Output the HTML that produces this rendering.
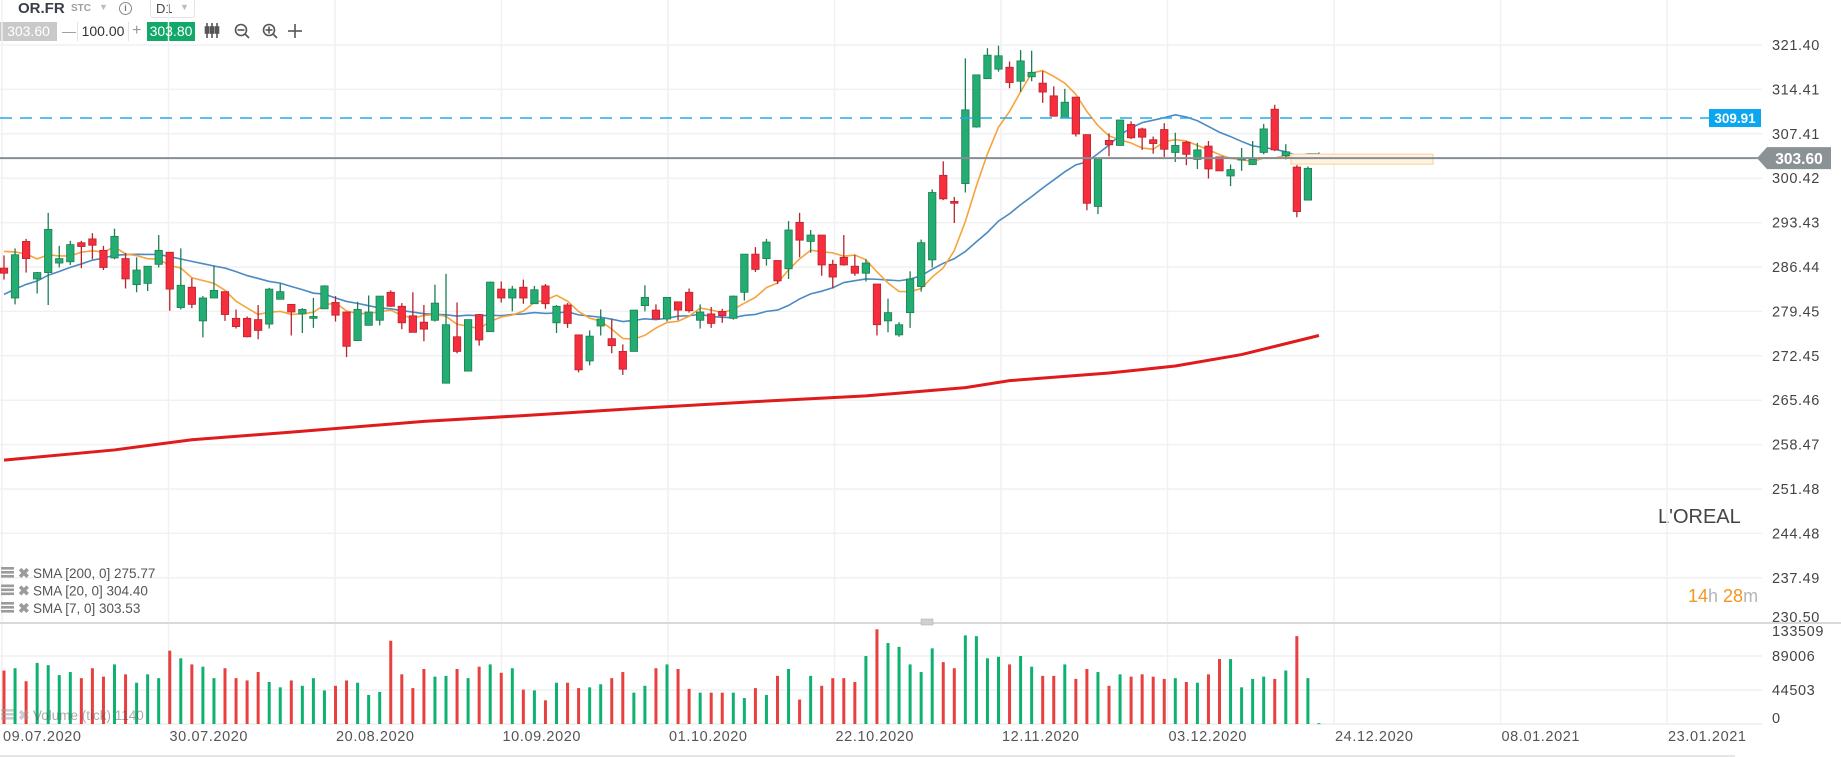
<!DOCTYPE html>
<html><head><meta charset="utf-8"><title>OR.FR chart</title>
<style>
html,body{margin:0;padding:0;background:#fff;overflow:hidden;}
body{width:1841px;height:757px;position:relative;font-family:"Liberation Sans",sans-serif;}
svg{position:absolute;left:0;top:0;}
.tb{position:absolute;font-size:14px;color:#333;}
</style></head>
<body>
<div class="tb" style="left:18px;top:0px;font-size:15px;font-weight:bold;color:#3a3f47;">OR.FR</div>
<div class="tb" style="left:71px;top:3px;font-size:10px;font-weight:bold;color:#9aa0a6;">STC</div>
<div class="tb" style="left:99px;top:2px;font-size:9px;color:#bbb;">▼</div>
<div class="tb" style="left:119px;top:2px;width:11px;height:11px;border:1.5px solid #888;border-radius:50%;font-size:9px;line-height:11px;text-align:center;color:#777;font-weight:bold;">i</div>
<div class="tb" style="left:150px;top:-2px;width:43px;height:18px;border:1px solid #e3e3e3;border-radius:3px;font-size:13px;color:#444;"><span style="position:absolute;left:5px;top:2px;">D1</span><span style="position:absolute;left:29px;top:3px;font-size:9px;color:#bbb;">▼</span></div>
<div class="tb" style="left:0;top:22px;width:57px;height:19px;background:#c9c9c9;color:#fff;font-size:14px;line-height:19px;text-align:center;">303.60</div>
<div class="tb" style="left:62px;top:22px;font-size:14px;line-height:19px;color:#999;">—</div>
<div class="tb" style="left:77px;top:22px;width:50px;height:19px;border-left:1px solid #e3e3e3;border-right:1px solid #e3e3e3;font-size:14px;line-height:19px;text-align:center;color:#333;">100.00</div>
<div class="tb" style="left:132px;top:21px;font-size:16px;line-height:19px;color:#999;">+</div>
<div class="tb" style="left:147px;top:22px;width:48px;height:19px;background:#12a86a;color:#fff;font-size:14px;line-height:19px;text-align:center;">303.80</div>
<div class="tb" style="left:1658px;top:506px;font-size:20px;color:#444;">L'OREAL</div>
<div class="tb" style="left:1688px;top:586px;font-size:18px;"><span style="color:#f7941d">14</span><span style="color:#b5b5b5">h </span><span style="color:#f7941d">28</span><span style="color:#b5b5b5">m</span></div>

<svg id="chart" width="1841" height="757" xmlns="http://www.w3.org/2000/svg"></svg>

<script>
// ---- data ----
const dateLabels = ["09.07.2020","30.07.2020","20.08.2020","10.09.2020","01.10.2020","22.10.2020","12.11.2020","03.12.2020","24.12.2020","08.01.2021","23.01.2021"];
const priceTicks = ["321.40","314.41","307.41","300.42","293.43","286.44","279.45","272.45","265.46","258.47","251.48","244.48","237.49","230.50"];
const volumeTicks = [133509, 89006, 44503, 0];
const opens = [286.3,281.6,290.5,284.6,285.6,287.1,287.3,290.3,290.9,289.1,287.9,287.8,283.7,283.9,286.9,288.8,280.1,283.3,278.0,281.6,282.6,278.4,278.4,278.2,277.5,281.4,280.6,279.1,278.4,279.9,280.9,279.4,274.9,277.3,278.1,282.5,280.3,278.8,277.8,278.1,268.2,275.5,270.1,279.0,276.3,283.0,281.6,283.3,280.7,283.5,277.7,280.5,275.8,271.7,277.2,275.2,273.2,273.2,280.4,279.7,278.3,281.0,282.5,278.1,279.1,279.5,278.4,282.5,288.5,287.8,287.5,286.2,293.5,290.5,291.5,286.9,288.0,286.6,285.5,283.8,278.0,275.8,279.3,283.4,287.6,300.9,296.8,299.6,308.5,316.1,317.6,317.9,315.7,316.4,315.4,313.4,309.9,313.2,307.3,296.0,306.4,305.6,308.9,308.2,306.5,308.1,304.5,306.1,303.4,305.5,303.8,300.8,303.3,302.6,304.5,311.3,304.0,302.2,297.0,303.2];
const highs = [288.3,289.4,290.9,285.7,295.0,289.8,290.6,290.6,291.8,289.8,292.5,288.7,288.0,286.6,291.5,288.8,289.4,284.7,281.9,286.7,282.6,279.8,278.7,280.5,283.2,283.9,280.6,280.0,281.6,283.6,281.9,279.4,281.0,282.0,281.9,282.8,280.8,282.5,280.5,283.7,285.4,280.9,278.2,279.1,284.2,284.2,283.5,284.5,283.5,283.8,280.5,280.8,275.8,276.5,279.8,278.3,274.3,279.7,283.6,280.6,281.7,281.0,283.1,280.6,280.2,279.9,282.0,288.5,289.6,290.9,287.5,293.7,295.0,292.3,291.5,287.6,291.5,288.4,287.7,283.8,281.5,277.8,285.8,290.8,298.7,303.1,297.5,319.3,316.7,320.9,321.3,318.8,320.6,320.5,317.3,314.9,314.5,313.2,307.3,303.5,307.5,309.6,309.4,308.4,307.0,309.1,307.6,306.3,306.0,306.3,303.8,302.6,305.2,306.3,309.0,312.0,305.8,302.5,302.3,304.5];
const lows = [284.5,280.6,285.6,282.3,280.5,286.4,286.8,286.3,287.7,286.0,287.7,283.1,282.5,282.7,286.4,279.6,279.8,280.0,275.4,281.6,278.0,276.8,275.4,275.1,276.8,281.4,275.7,276.1,276.9,279.9,277.9,272.3,274.9,277.3,277.3,280.2,276.7,276.2,274.8,277.9,268.2,272.9,270.1,274.1,276.3,280.9,279.5,280.7,280.7,279.9,276.1,276.9,269.9,271.0,275.7,272.9,269.5,273.2,279.5,278.3,277.9,278.1,279.3,276.8,276.9,277.7,278.2,281.2,285.7,286.7,283.8,284.6,288.0,288.7,285.1,283.1,286.7,285.1,284.2,275.7,276.2,275.5,276.9,282.6,286.4,297.0,293.4,298.2,308.4,316.1,317.2,314.6,314.0,315.7,312.3,310.2,309.9,307.0,295.4,294.8,303.9,305.6,306.6,304.9,304.3,303.8,303.0,302.5,301.9,300.4,301.6,299.2,301.6,302.5,304.2,304.7,303.4,294.3,297.0,302.8];
const closes = [285.5,288.4,287.8,285.6,292.4,287.8,290.0,289.7,289.9,286.4,291.3,284.6,286.0,286.6,289.1,283.0,283.6,280.6,281.6,282.8,279.0,277.1,275.5,276.5,283.0,282.6,279.4,279.8,278.7,283.5,278.9,274.0,279.8,279.4,281.9,280.3,277.7,276.2,276.7,280.8,277.4,273.2,278.2,275.0,284.1,281.6,283.0,281.6,282.9,280.7,280.3,277.6,270.3,275.6,278.3,274.1,270.4,279.7,281.7,278.3,281.7,279.7,279.6,279.4,277.6,278.8,281.9,288.5,286.1,290.4,284.3,292.3,290.7,291.5,286.8,284.9,286.8,285.5,287.1,277.4,279.3,277.4,284.6,290.3,298.2,297.2,296.5,311.2,316.7,319.8,319.7,315.5,318.9,317.1,314.0,310.2,312.4,307.4,296.5,303.5,305.7,309.6,306.8,306.9,305.9,305.0,305.6,304.2,304.9,301.9,301.6,301.8,303.6,303.4,308.2,304.9,304.6,295.2,302.0,303.6];
const priorCloses = [272,273,275,274,276,277,279,278,280,282,283,285,287,289,290,291,288,289,290];
const volumes = [70,73,56,80,77,64,68,60,73,62,78,65,54,65,60,96,86,78,75,60,73,60,57,68,55,48,57,50,60,44,50,57,54,38,42,109,65,47,72,62,63,72,60,75,78,67,73,45,44,31,54,54,47,48,52,60,68,41,50,73,78,72,46,41,41,41,41,34,47,38,63,72,32,63,50,60,60,55,89,124,106,101,78,68,99,81,73,116,115,86,88,78,89,75,63,63,78,59,72,68,50,65,62,65,62,59,60,55,54,65,85,85,48,59,62,59,70,115,60,1.14];
const sma200Bars = [0,10,17,26,38,47,57,68,78,87,91,100,106,112,119];
const sma200Values = [256.1,257.7,259.3,260.5,262.2,263.1,264.2,265.3,266.2,267.5,268.6,269.8,270.9,272.7,275.7];
const legendLines = ["SMA [200, 0] 275.77","SMA [20, 0] 304.40","SMA [7, 0] 303.53"];
const lastPrice = 303.60, alertPrice = 309.91;

// ---- axes ----
const NS = "http://www.w3.org/2000/svg";
const svg = document.getElementById('chart');
const xBar = i => 4 + 11.05 * i;
const yP = p => 45 + (321.4 - p) * 6.357;
const yV = v => 724 - (v * 1000) / 133509 * 102;
const PLOT_R = 1762;
function mk(tag, attrs, parent) {
  const e = document.createElementNS(NS, tag);
  for (const k in attrs) e.setAttribute(k, attrs[k]);
  (parent || svg).appendChild(e);
  return e;
}
const grid = mk('g', {});


priceTicks.forEach((t, k) => {
  const y = 45 + k * 44.4;
  if (k < priceTicks.length - 1) mk('line', {x1:0, x2:PLOT_R, y1:y, y2:y, stroke:'#f1f1f3', 'stroke-width':1.5}, grid);
  const tx = mk('text', {x:1772, y:(k === priceTicks.length - 1 ? 617 : y) + 5, 'font-size':14.5, fill:'#444', 'letter-spacing':'0.6'});
  tx.textContent = t;
  
  
});
dateLabels.forEach((d, k) => {
  const x = 2 + k * 166.5;
  mk('line', {x1:x, x2:x, y1:0, y2:724, stroke:'#f1f1f3', 'stroke-width':1.5}, grid);
  const tx = mk('text', {x:x + 1, y:741, 'font-size':14.5, fill:'#555', 'letter-spacing':'0.6'});
  tx.textContent = d;
  
  
});
volumeTicks.forEach(v => {
  const y = yV(v / 1000);
  if (v > 0 && v < 133509) mk('line', {x1:0, x2:PLOT_R, y1:y, y2:y, stroke:'#f1f1f3', 'stroke-width':1.5}, grid);
  const tx = mk('text', {x:1772, y:(v === 133509 ? 636 : (v === 0 ? 723 : y + 5)), 'font-size':14.5, fill:'#444', 'letter-spacing':'0.6'});
  tx.textContent = String(v);
  
  
});
mk('line', {x1:0, x2:PLOT_R, y1:724, y2:724, stroke:'#eeeeee', 'stroke-width':1.5}, grid);
const sep = mk('line', {x1:0, x2:1841, y1:623, y2:623, stroke:'#d9d9d9', 'stroke-width':2});


mk('rect', {x:921, y:619, width:12, height:6, fill:'#d0d0d0', stroke:'#aaa', 'stroke-width':0.5});
mk('line', {x1:0, x2:1735, y1:756, y2:756, stroke:'#e6e6e6', 'stroke-width':2});

// ---- SMA200 ----
const s200 = mk('polyline', {fill:'none', stroke:'#e01b1b', 'stroke-width':3,
  points: sma200Bars.map((b, k) => xBar(b) + ',' + yP(sma200Values[k])).join(' ')});



// ---- volume bars ----
const vg = mk('g', {});


volumes.forEach((v, i) => {
  const up = closes[i] >= opens[i];
  const y = yV(v);
  const r = mk('rect', {x:xBar(i) - 1.5, y:y, width:3, height:Math.max(724 - y, 1), fill: up ? '#0fb170' : '#e8403f'}, vg);
  
  
});

// ---- SMA 20 / 7 computed ----
const allCloses = priorCloses.concat(closes);
function sma(n) {
  const pts = [];
  for (let i = 0; i < closes.length; i++) {
    const end = i + priorCloses.length;
    let s = 0, c = 0;
    for (let j = Math.max(0, end - n + 1); j <= end; j++) { s += allCloses[j]; c++; }
    pts.push(xBar(i) + ',' + yP(s / c));
  }
  return pts.join(' ');
}
const s20 = mk('polyline', {fill:'none', stroke:'#4b8ac2', 'stroke-width':1.6, points:sma(20)});


const s7 = mk('polyline', {fill:'none', stroke:'#f7a33c', 'stroke-width':1.6, points:sma(7)});



// ---- candles ----
const cg = mk('g', {});


opens.forEach((o, i) => {
  const c = closes[i], up = c >= o, x = xBar(i);
  const col = up ? '#24ad72' : '#f62d3d', edge = up ? '#1c7f52' : '#b8232d';
  const g = mk('g', {}, cg);
  
  
  mk('line', {x1:x, x2:x, y1:yP(highs[i]), y2:yP(lows[i]), stroke:edge, 'stroke-width':1.3}, g);
  const top = yP(Math.max(o, c)), bot = yP(Math.min(o, c));
  mk('rect', {x:x - 3.7, y:top, width:7.4, height:Math.max(bot - top, 1.2), fill:col, stroke:edge, 'stroke-width':0.8}, g);
});

// ---- price lines ----
const ay = yP(alertPrice);
const al = mk('line', {x1:0, x2:1709, y1:ay, y2:ay, stroke:'#25a8ef', 'stroke-width':1.5, 'stroke-dasharray':'12 8'});


const ab = mk('rect', {x:1709, y:ay - 9, width:52, height:18, fill:'#0aa6ef'});


const at = mk('text', {x:1735, y:ay + 5, 'font-size':13.5, fill:'#fff', 'font-weight':'bold', 'text-anchor':'middle'});
at.textContent = alertPrice.toFixed(2);


const ly = yP(lastPrice);
const orb = mk('rect', {x:1291, y:ly - 4, width:142, height:10, fill:'#fff3e1', stroke:'#f6cf98', 'stroke-width':1});


const ll = mk('line', {x1:0, x2:1760, y1:ly, y2:ly, stroke:'#878e93', 'stroke-width':2});


const lb = mk('polygon', {points:`1757,${ly} 1767,${ly-11} 1831,${ly-11} 1831,${ly+11} 1767,${ly+11}`, fill:'#8b9296'});


const lt = mk('text', {x:1799, y:ly + 6, 'font-size':15.5, fill:'#fff', 'text-anchor':'middle', 'font-weight':'bold'});
lt.textContent = lastPrice.toFixed(2);



// ---- legend ----
function legendRow(y, label, name, op) {
  const g = mk('g', {opacity: op});
  
  
  for (let k = 0; k < 3; k++) mk('rect', {x:1, y:y - 10 + k * 4, width:13, height:2.6, fill:'#9b9b9b'}, g);
  const x = mk('text', {x:18, y:y + 1, 'font-size':14, fill:'#9b9b9b', 'font-weight':'bold'}, g);
  x.textContent = '✖';
  const t = mk('text', {x:33, y:y + 1, 'font-size':13.5, fill:'#555'}, g);
  t.textContent = label;
}
legendLines.forEach((l, k) => legendRow(577 + k * 17.5, l, 'sma-legend-entry', 1));
legendRow(719, 'Volume (tick) 1140', 'volume-legend-entry', 0.5);

// ---- toolbar icons ----
const ic = mk('g', {stroke:'#555', 'stroke-width':1.6, fill:'none'});


[207, 212, 217].forEach(x => { mk('line', {x1:x, x2:x, y1:23, y2:38}, ic); mk('rect', {x:x - 1.5, y:27, width:3, height:6, fill:'#555'}, ic); });
mk('circle', {cx:241, cy:30, r:5.5}, ic); mk('line', {x1:237.5, x2:244.5, y1:30, y2:30}, ic); mk('line', {x1:245, x2:249, y1:34, y2:38}, ic);
mk('circle', {cx:269, cy:30, r:5.5}, ic); mk('line', {x1:265.5, x2:272.5, y1:30, y2:30}, ic); mk('line', {x1:269, x2:269, y1:26.5, y2:33.5}, ic); mk('line', {x1:273, x2:277, y1:34, y2:38}, ic);
mk('line', {x1:288, x2:302, y1:31, y2:31}, ic); mk('line', {x1:295, x2:295, y1:24, y2:38}, ic);
</script>
</body></html>
